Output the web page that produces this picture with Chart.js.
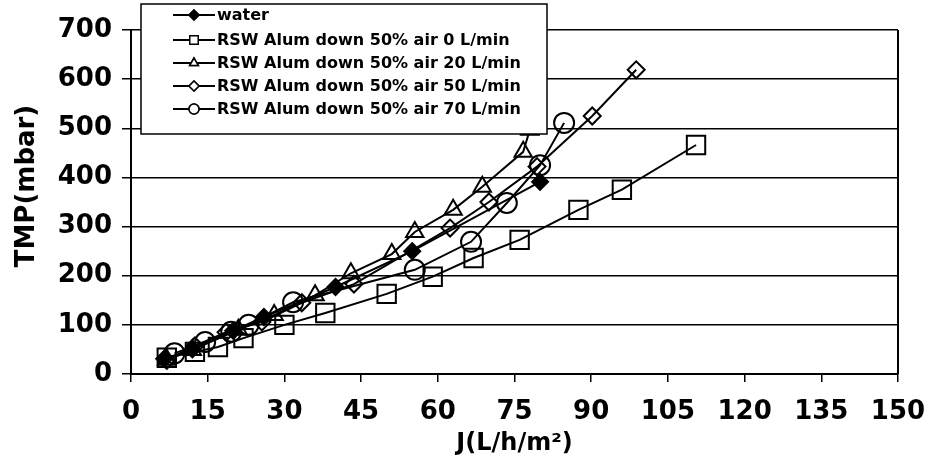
<!DOCTYPE html>
<html lang="en">
<head>
  <meta charset="UTF-8" />
  <title>TMP vs flux</title>
  <script src="https://cdn.jsdelivr.net/npm/chart.js"></script>
  <style>
    html, body {
      margin: 0;
      padding: 0;
      background: #fff;
    }

    #chart-wrap {
      width: 927px;
      height: 468px;
    }
  </style>
</head>
<body>
  <div id="chart-wrap">
    <canvas id="tmpChart"></canvas>
  </div>

  <script>
    // flux J (L/h/m2) and TMP (mbar) for each run
    const waterJ = [6.5, 12, 20, 26, 40, 55, 80];
    const waterTMP = [31, 50, 88, 116, 177, 250, 391];

    const air0J = [7, 12.5, 17, 22, 30, 38, 50, 59, 67, 76, 87.5, 96, 110.5];
    const air0TMP = [33, 45, 55, 73, 100, 124, 163, 198, 236, 273, 334, 375, 466];

    const air20J = [7, 12, 21, 28, 36, 43, 51, 55.5, 63, 68.7, 76.7, 78];
    const air20TMP = [29, 49, 90, 120, 160, 205, 244, 289, 334, 381, 452, 497];

    const air50J = [7, 12.5, 18.6, 25.6, 33.4, 43.6, 62.4, 70, 79.4, 90.2, 98.8];
    const air50TMP = [28, 57, 85, 106, 145, 183, 297, 350, 422, 525, 619];

    const air70J = [8.5, 14.5, 19.6, 23, 31.7, 55.5, 66.5, 73.5, 80, 84.7];
    const air70TMP = [42, 65, 86, 100, 146, 212, 269, 348, 425, 511];

    const seriesLabels = [
      "water",
      "RSW Alum down 50% air 0 L/min",
      "RSW Alum down 50% air 20 L/min",
      "RSW Alum down 50% air 50 L/min",
      "RSW Alum down 50% air 70 L/min"
    ];

    const xTicks = [0, 15, 30, 45, 60, 75, 90, 105, 120, 135, 150];
    const yTicks = [0, 100, 200, 300, 400, 500, 600, 700];

    const xTitle = "J(L/h/m²)";
    const yTitle = "TMP(mbar)";

    const FONT = "'DejaVu Sans', 'Liberation Sans', Arial, sans-serif";

    function toPoints(xs, ys) {
      return xs.map((x, i) => ({ x: x, y: ys[i] }));
    }

    const markers = [
      { style: "rectRot", radius: 8, fill: "#000" },
      { style: "rect", radius: 13, fill: "transparent" },
      { style: "triangle", radius: 10, fill: "transparent" },
      { style: "rectRot", radius: 8.5, fill: "transparent" },
      { style: "circle", radius: 10, fill: "transparent" }
    ];

    const seriesData = [
      toPoints(waterJ, waterTMP),
      toPoints(air0J, air0TMP),
      toPoints(air20J, air20TMP),
      toPoints(air50J, air50TMP),
      toPoints(air70J, air70TMP)
    ];

    const datasets = seriesLabels.map((label, i) => ({
      label: label,
      data: seriesData[i],
      borderColor: "#000",
      borderWidth: 2,
      pointStyle: markers[i].style,
      pointRadius: markers[i].radius,
      pointBorderWidth: 2,
      pointBorderColor: "#000",
      pointBackgroundColor: markers[i].fill,
      tension: 0,
      fill: false
    }));

    // right border of the plot frame, plus the rotated y title
    const framePlugin = {
      id: "frame",
      afterDatasetsDraw(chart) {
        const { ctx, chartArea: a } = chart;
        ctx.save();
        ctx.strokeStyle = "#000";
        ctx.lineWidth = 2;
        ctx.beginPath();
        ctx.moveTo(a.right, a.top);
        ctx.lineTo(a.right, a.bottom);
        ctx.stroke();

        ctx.translate(27, 186);
        ctx.rotate(-Math.PI / 2);
        ctx.font = "bold 26px " + FONT;
        ctx.fillStyle = "#000";
        ctx.textAlign = "center";
        ctx.textBaseline = "middle";
        ctx.fillText(yTitle, 0, 0);
        ctx.restore();
      }
    };

    // boxed legend sitting over the top-left of the plot
    const boxLegendPlugin = {
      id: "boxLegend",
      afterDraw(chart) {
        const ctx = chart.ctx;
        const box = { x: 141, y: 4, w: 406, h: 130 };
        const rows = [15, 40, 63, 86, 109];
        ctx.save();
        ctx.fillStyle = "#fff";
        ctx.fillRect(box.x, box.y, box.w, box.h);
        ctx.strokeStyle = "#000";
        ctx.lineWidth = 1.5;
        ctx.strokeRect(box.x, box.y, box.w, box.h);

        ctx.font = "bold 16px " + FONT;
        ctx.textBaseline = "middle";
        ctx.textAlign = "left";
        seriesLabels.forEach((label, i) => {
          const y = rows[i];
          ctx.strokeStyle = "#000";
          ctx.lineWidth = 2;
          ctx.beginPath();
          ctx.moveTo(173, y);
          ctx.lineTo(215, y);
          ctx.stroke();

          ctx.fillStyle = markers[i].fill === "#000" ? "#000" : "#fff";
          ctx.lineWidth = 1.5;
          Chart.helpers.drawPoint(ctx, {
            pointStyle: markers[i].style,
            radius: markers[i].style === "rect" ? 6 : 5,
            borderWidth: 1.5
          }, 194, y);
          ctx.fill();
          ctx.stroke();

          ctx.fillStyle = "#000";
          ctx.fillText(label, 217, y + 1);
        });
        ctx.restore();
      }
    };

    const ctx = document.getElementById("tmpChart").getContext("2d");

    new Chart(ctx, {
      type: "line",
      data: { datasets: datasets },
      plugins: [framePlugin, boxLegendPlugin],
      options: {
        animation: false,
        responsive: true,
        maintainAspectRatio: false,
        layout: {
          padding: { top: 30, right: 29, left: 0, bottom: 0 }
        },
        plugins: {
          legend: { display: false },
          tooltip: { enabled: false }
        },
        scales: {
          x: {
            type: "linear",
            min: 0,
            max: 150,
            afterBuildTicks: scale => {
              scale.ticks = xTicks.map(v => ({ value: v }));
            },
            afterFit: scale => {
              scale.height = 94;
              // edge labels may overhang, the padding above leaves room
              scale.paddingLeft = 0;
              scale.paddingRight = 0;
            },
            ticks: {
              color: "#000",
              padding: 15,
              font: { family: FONT, size: 26, weight: "bold" }
            },
            grid: {
              drawOnChartArea: false,
              color: "#000",
              lineWidth: 1.5,
              tickLength: 8
            },
            border: { color: "#000", width: 2 },
            title: {
              display: true,
              text: xTitle,
              color: "#000",
              padding: { top: 0, bottom: 10 },
              font: { family: FONT, size: 24, weight: "bold" }
            }
          },
          y: {
            min: 0,
            max: 700,
            afterBuildTicks: scale => {
              scale.ticks = yTicks.map(v => ({ value: v }));
            },
            afterFit: scale => {
              scale.width = 131;
            },
            ticks: {
              color: "#000",
              padding: 10,
              font: { family: FONT, size: 26, weight: "bold" }
            },
            grid: {
              color: "#000",
              lineWidth: 1.5,
              tickLength: 9
            },
            border: { color: "#000", width: 2 }
          }
        }
      }
    });
  </script>
</body>
</html>
